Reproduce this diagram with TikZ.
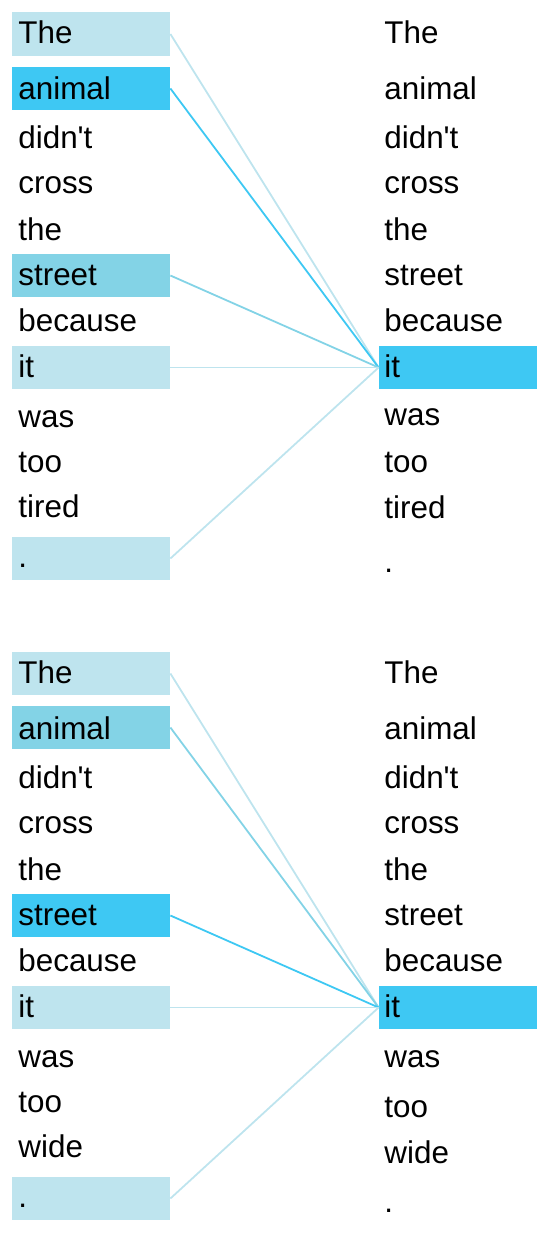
\documentclass[tikz,border=0pt]{standalone}
\usepackage{fontspec}
\setmainfont{Liberation Sans}
\definecolor{attlow}{HTML}{BEE4EE}
\definecolor{attmid}{HTML}{83D3E6}
\definecolor{atthigh}{HTML}{3EC8F3}
\begin{document}
\begin{tikzpicture}[x=0.5pt,y=-0.5pt,
  word/.style={anchor=base west,inner sep=0pt,font=\fontsize{15.7pt}{18pt}\selectfont},
  hlbox/.style={minimum width=79pt,minimum height=21.75pt,inner sep=0pt,draw=none},
  att/.style={line width=0.9pt}]

\useasboundingbox (0,0) rectangle (549,1233);

% top panel: boxes
\node[hlbox,fill=attlow] (ba1) at (91,34) {};
\node[hlbox,fill=atthigh] (ba2) at (91,88.5) {};
\node[hlbox,fill=attmid] (ba6) at (91,275.5) {};
\node[hlbox,fill=attlow] (ba8) at (91,367.5) {};
\node[hlbox,fill=attlow] (ba12) at (91,558.5) {};
\node[hlbox,fill=atthigh] (qa) at (458,367.5) {};

\draw[att,attlow] (ba1.east) -- (qa.west);
\draw[att,atthigh] (ba2.east) -- (qa.west);
\draw[att,attmid] (ba6.east) -- (qa.west);
\draw[att,attlow] (ba8.east) -- (qa.west);
\draw[att,attlow] (ba12.east) -- (qa.west);

\node[word] (la1) at (18,43.5) {The};
\node[word] (la2) at (18,99) {animal};
\node[word] (la3) at (18,148) {didn\textquotesingle t};
\node[word] (la4) at (18,193) {cross};
\node[word] (la5) at (18,240) {the};
\node[word] (la6) at (18,285) {street};
\node[word] (la7) at (18,331) {because};
\node[word] (la8) at (18,377) {it};
\node[word] (la9) at (18,427) {was};
\node[word] (la10) at (18,472) {too};
\node[word] (la11) at (18,517) {tired};
\node[word] (la12) at (18,567) {.};

\node[word] (ra1) at (384,43.5) {The};
\node[word] (ra2) at (384,99) {animal};
\node[word] (ra3) at (384,148) {didn\textquotesingle t};
\node[word] (ra4) at (384,193) {cross};
\node[word] (ra5) at (384,240) {the};
\node[word] (ra6) at (384,285) {street};
\node[word] (ra7) at (384,331) {because};
\node[word] (ra8) at (384,377) {it};
\node[word] (ra9) at (384,425) {was};
\node[word] (ra10) at (384,472) {too};
\node[word] (ra11) at (384,518) {tired};
\node[word] (ra12) at (384,572) {.};

% bottom panel: boxes
\node[hlbox,fill=attlow] (bb1) at (91,673.5) {};
\node[hlbox,fill=attmid] (bb2) at (91,727.5) {};
\node[hlbox,fill=atthigh] (bb6) at (91,915.5) {};
\node[hlbox,fill=attlow] (bb8) at (91,1007.5) {};
\node[hlbox,fill=attlow] (bb12) at (91,1198.5) {};
\node[hlbox,fill=atthigh] (qb) at (458,1007.5) {};

\draw[att,attlow] (bb1.east) -- (qb.west);
\draw[att,attmid] (bb2.east) -- (qb.west);
\draw[att,atthigh] (bb6.east) -- (qb.west);
\draw[att,attlow] (bb8.east) -- (qb.west);
\draw[att,attlow] (bb12.east) -- (qb.west);

\node[word] (lb1) at (18,683.5) {The};
\node[word] (lb2) at (18,739) {animal};
\node[word] (lb3) at (18,788) {didn\textquotesingle t};
\node[word] (lb4) at (18,833) {cross};
\node[word] (lb5) at (18,880) {the};
\node[word] (lb6) at (18,925) {street};
\node[word] (lb7) at (18,971) {because};
\node[word] (lb8) at (18,1017) {it};
\node[word] (lb9) at (18,1067) {was};
\node[word] (lb10) at (18,1112) {too};
\node[word] (lb11) at (18,1157) {wide};
\node[word] (lb12) at (18,1207) {.};

\node[word] (rb1) at (384,683) {The};
\node[word] (rb2) at (384,739) {animal};
\node[word] (rb3) at (384,788) {didn\textquotesingle t};
\node[word] (rb4) at (384,833) {cross};
\node[word] (rb5) at (384,880) {the};
\node[word] (rb6) at (384,925) {street};
\node[word] (rb7) at (384,971) {because};
\node[word] (rb8) at (384,1017) {it};
\node[word] (rb9) at (384,1067) {was};
\node[word] (rb10) at (384,1117) {too};
\node[word] (rb11) at (384,1163) {wide};
\node[word] (rb12) at (384,1212) {.};
\end{tikzpicture}
\end{document}
